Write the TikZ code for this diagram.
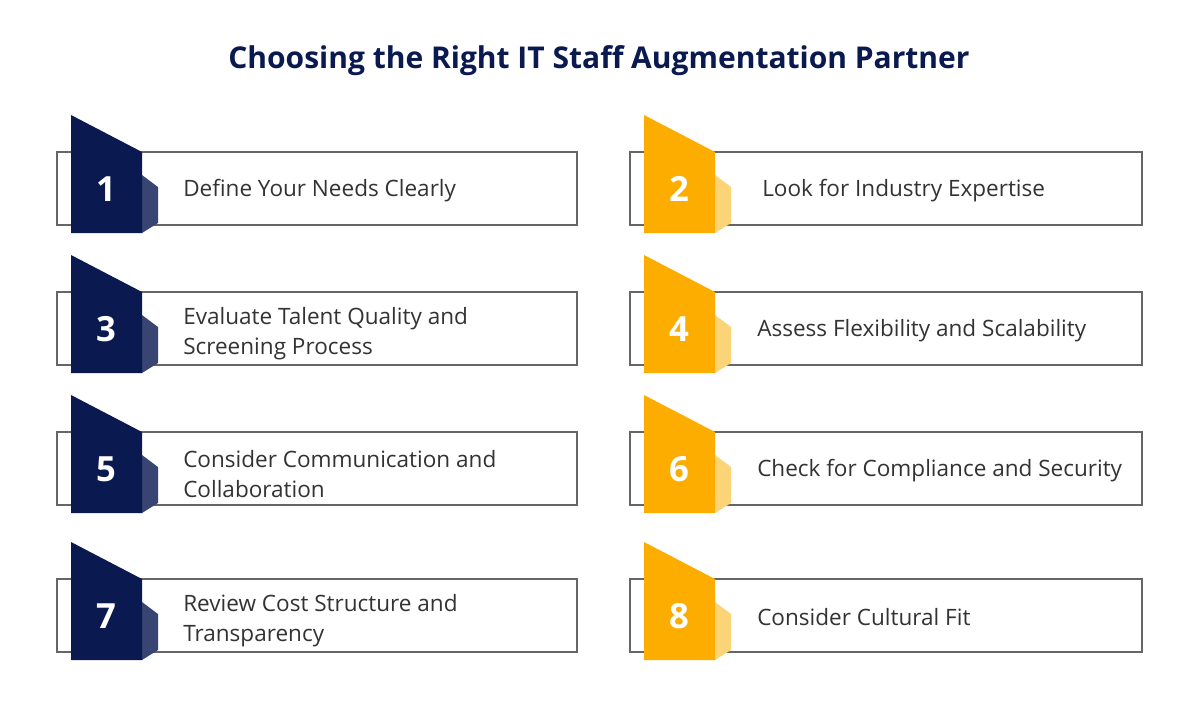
\documentclass[tikz,border=0pt]{standalone}
\usepackage{fontspec}
\setmainfont{Open Sans}
\usetikzlibrary{positioning}
\definecolor{navyblue}{rgb}{0.04,0.10,0.31}
\definecolor{navytab}{rgb}{0.22,0.27,0.45}
\definecolor{amber}{rgb}{0.99,0.68,0.00}
\definecolor{amberlight}{rgb}{0.99,0.83,0.47}
\definecolor{boxgray}{rgb}{0.40,0.40,0.40}
\definecolor{textgray}{rgb}{0.20,0.20,0.20}
\tikzset{
  marco/.style={
    draw=boxgray,
    line width=1.1pt
  },
  numero/.style={
    text=white,
    inner sep=0pt,
    font=\fontsize{26}{30}\selectfont\bfseries
  },
  etiqueta/.style={
    anchor=west,
    align=left,
    inner sep=0pt,
    text=textgray,
    font=\fontsize{16.9}{22.5}\selectfont
  },
  titulo/.style={
    text=navyblue,
    font=\fontsize{22.5}{27}\selectfont\bfseries
  }
}

\begin{document}
\begin{tikzpicture}[x=0.75pt,y=-0.75pt]
\fill[white] (0,0) rectangle (1200,704);
\useasboundingbox (0,0) rectangle (1200,704);
\node[titulo] (title) at (599,61) {Choosing the Right IT Staff Augmentation Partner};
\foreach \n/\bx/\by/\bw/\main/\tab/\tx/\ty/\texto in {
  1/57/152/520/navyblue/navytab/183/39/{Define Your Needs Clearly},
  2/630/152/512/amber/amberlight/762/39/{Look for Industry Expertise},
  3/57/292/520/navyblue/navytab/183/42/{Evaluate Talent Quality and\\Screening Process},
  4/630/292/512/amber/amberlight/757/39/{Assess Flexibility and Scalability},
  5/57/432/520/navyblue/navytab/183/42/{Consider Communication and\\Collaboration},
  6/630/432/512/amber/amberlight/757/39/{Check for Compliance and Security},
  7/57/579/520/navyblue/navytab/183/42/{Review Cost Structure and\\Transparency},
  8/630/579/512/amber/amberlight/757/38/{Consider Cultural Fit}}{
  \draw[marco] (\bx,\by) rectangle ++(\bw,73);
  % side tab behind the badge
  \fill[\tab] (\bx+85,\by+23) -- (\bx+101,\by+35) -- (\bx+101,\by+71) -- (\bx+85,\by+81) -- cycle;
  \fill[\main] (\bx+14,\by-37) -- (\bx+85,\by) -- (\bx+85,\by+81) -- (\bx+14,\by+81) -- cycle;
  \node[numero] (num\n) at (\bx+49,\by+37) {\n};
  \node[etiqueta] (txt\n) at (\tx,\by+\ty) {\texto};
}
\end{tikzpicture}
\end{document}
